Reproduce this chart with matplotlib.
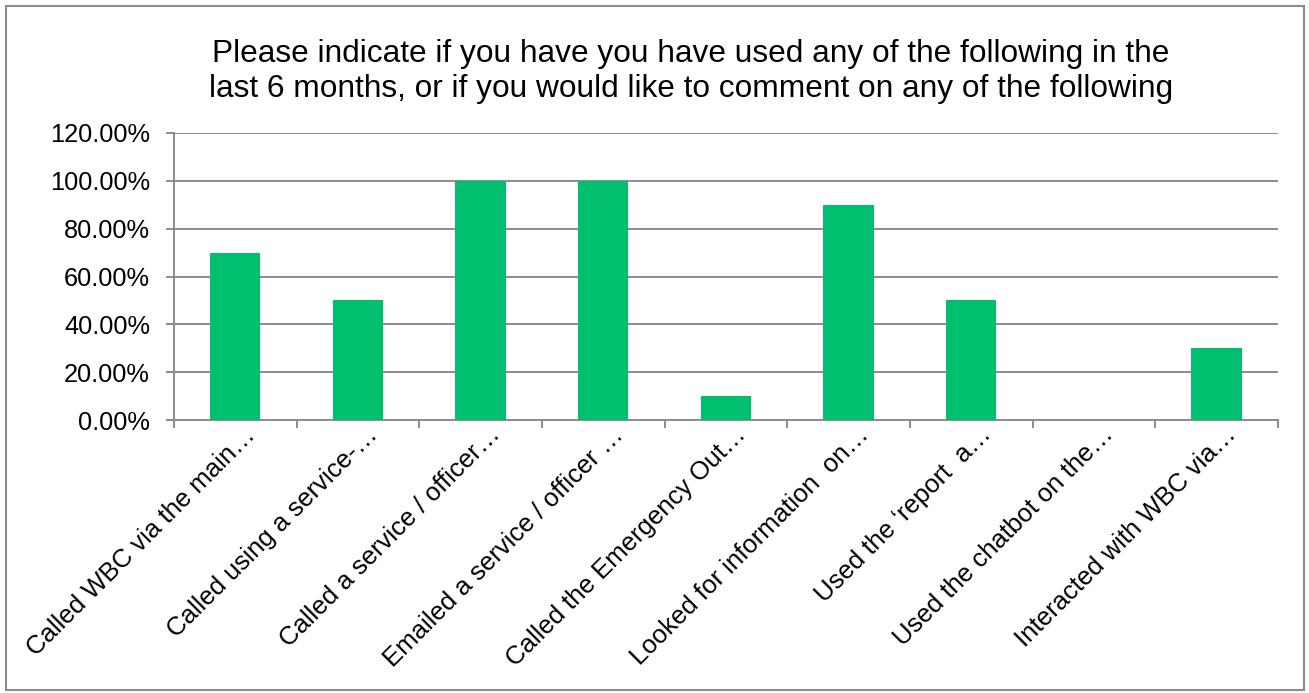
import matplotlib
matplotlib.use("Agg")
import matplotlib.pyplot as plt
import matplotlib.transforms as mtransforms
from matplotlib.patches import Rectangle
from matplotlib.ticker import FuncFormatter, MultipleLocator, FixedLocator

plt.rcParams["font.family"] = ["Liberation Sans", "DejaVu Sans"]

CATEGORIES = [
    "Called WBC via the main\u2026",
    "Called using a service-\u2026",
    "Called a service / officer\u2026",
    "Emailed a service / officer \u2026",
    "Called the Emergency Out\u2026",
    "Looked for information  on\u2026",
    "Used the \u2018report  a\u2026",
    "Used the chatbot on the\u2026",
    "Interacted with WBC via\u2026",
]
PCT = [0.70, 0.50, 1.00, 1.00, 0.10, 0.90, 0.50, 0.00, 0.30]

TITLE_LINES = [
    "Please indicate if you have you have used any of the following in the",
    "last 6 months, or if you would like to comment on any of the following",
]

GREEN = "#00bf6f"
GRID = "#8c8c8c"

fig = plt.figure(figsize=(13.09, 6.93), dpi=100)
ax = fig.add_axes([0.1329, 0.3939, 0.8434, 0.4142])

x = list(range(len(CATEGORIES)))
ax.bar(x, PCT, width=0.41, color=GREEN, zorder=3)

ax.set_xlim(-0.5, len(CATEGORIES) - 0.5)
ax.set_ylim(0, 1.2)
ax.yaxis.set_major_locator(MultipleLocator(0.2))
ax.yaxis.set_major_formatter(FuncFormatter(lambda v, _: f"{v * 100:.2f}%"))
ax.yaxis.grid(True, color=GRID, linewidth=1.4, zorder=0)
ax.set_axisbelow(True)

# category labels at centres, tick marks on the category boundaries
ax.set_xticks(x)
ax.set_xticklabels(CATEGORIES, rotation=45, ha="right", va="center",
                   rotation_mode="anchor", fontsize=18.5)
ax.xaxis.set_minor_locator(FixedLocator([i - 0.5 for i in range(len(CATEGORIES) + 1)]))
ax.tick_params(axis="x", which="major", length=0, pad=0)
ax.tick_params(axis="x", which="minor", length=6, width=1.4, color=GRID, direction="out")
ax.tick_params(axis="y", length=6, width=1.4, color=GRID, direction="out",
               labelsize=18.3, pad=11.3)
shift = mtransforms.ScaledTranslation(0.16, -0.11, fig.dpi_scale_trans)
for lbl in ax.get_xticklabels():
    lbl.set_transform(lbl.get_transform() + shift)

for side in ("top", "right"):
    ax.spines[side].set_visible(False)
for side in ("left", "bottom"):
    ax.spines[side].set_color(GRID)
    ax.spines[side].set_linewidth(1.4)

for line, ypos in zip(TITLE_LINES, (0.9105, 0.8600)):
    fig.text(0.528, ypos, line, ha="center", va="baseline", fontsize=22.8)

# outer chart frame
fig.patches.append(Rectangle((0.0046, 0.0043), 0.9916, 0.9870, transform=fig.transFigure,
                             fill=False, edgecolor="#8c8c8c", linewidth=1.5))

fig.savefig("out.png", dpi=100, facecolor="white")
